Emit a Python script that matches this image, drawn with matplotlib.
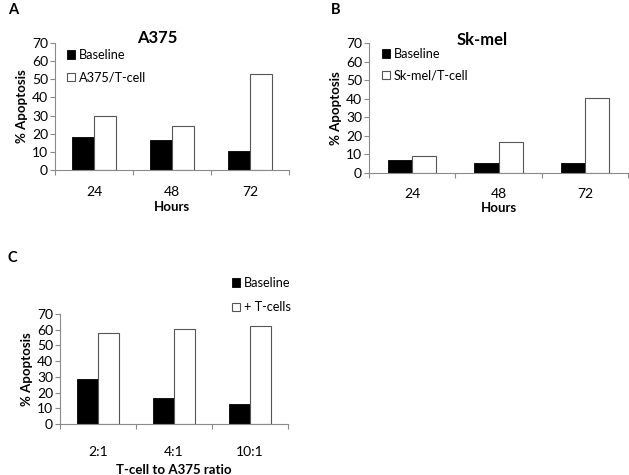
import numpy as np
import matplotlib
matplotlib.use('Agg')
import matplotlib.pyplot as plt
from matplotlib.patches import Patch

plt.rcParams['font.family'] = ['Lato', 'DejaVu Sans']

# ---- data ----
hours = ['24', '48', '72']
a375_base = [18.0, 16.8, 10.7]
a375_tcell = [29.6, 24.3, 52.9]

skmel_base = [6.8, 5.3, 5.2]
skmel_tcell = [9.2, 16.7, 40.2]

ratios = ['2:1', '4:1', '10:1']
ratio_base = [28.4, 16.8, 13.0]
ratio_tcell = [57.7, 60.5, 62.2]

W, H = 629, 475
fig = plt.figure(figsize=(W / 100, H / 100), dpi=100)

spine_col = '#8a8a8a'
edge_col = '#555555'


def px_axes(left, top, right, bottom):
    return fig.add_axes([left / W, 1 - bottom / H, (right - left) / W, (bottom - top) / H])


def bar_panel(ax, cats, base, treat, xlabel, tpad, lpad):
    x = np.arange(len(cats))
    w = 0.28
    ax.bar(x - w, base, width=w, align='edge', color='black', edgecolor='black', linewidth=0.6)
    ax.bar(x, treat, width=w, align='edge', color='white', edgecolor=edge_col, linewidth=0.8)
    ax.set_xlim(-0.5, len(cats) - 0.5)
    ax.set_ylim(0, 70)
    ax.set_yticks(range(0, 71, 10))
    for s in ['top', 'right']:
        ax.spines[s].set_visible(False)
    for s in ['left', 'bottom']:
        ax.spines[s].set_color(spine_col)
        ax.spines[s].set_linewidth(0.8)
    # category boundaries as tick marks, labels in the middle
    ax.set_xticks(np.arange(-0.5, len(cats), 1.0))
    ax.set_xticklabels([])
    ax.set_xticks(x, minor=True)
    ax.set_xticklabels(cats, minor=True, fontsize=10)
    ax.tick_params(axis='x', which='major', direction='out', length=3.5, color=spine_col, width=0.8)
    ax.tick_params(axis='x', which='minor', length=0, pad=tpad)
    ax.tick_params(axis='y', direction='out', length=3.5, color=spine_col, width=0.8,
                   labelsize=10, pad=1.5)
    ax.set_ylabel('% Apoptosis', fontsize=9.5, fontweight='bold', labelpad=3)
    ax.set_xlabel(xlabel, fontsize=9.5, fontweight='bold', labelpad=lpad)


def add_legend(ax, labels, x, y, spacing):
    handles = [Patch(facecolor='black', edgecolor='black', linewidth=0.6),
               Patch(facecolor='white', edgecolor=edge_col, linewidth=0.8)]
    ax.legend(handles, labels, loc='upper left', bbox_to_anchor=(x / W, 1 - y / H),
              bbox_transform=fig.transFigure, frameon=False, fontsize=9.2,
              handlelength=0.6, handleheight=0.6, handletextpad=0.3,
              labelspacing=spacing, borderpad=0, borderaxespad=0)


# Panel A
axA = px_axes(55, 43, 289, 170)
bar_panel(axA, hours, a375_base, a375_tcell, 'Hours', 11.5, 2.5)
add_legend(axA, ['Baseline', 'A375/T-cell'], 67, 49, 0.85)

# Panel B
axB = px_axes(369, 43, 628, 173)
bar_panel(axB, hours, skmel_base, skmel_tcell, 'Hours', 11, 1)
add_legend(axB, ['Baseline', 'Sk-mel/T-cell'], 382, 48, 0.75)

# Panel C
axC = px_axes(60, 314, 288, 424)
bar_panel(axC, ratios, ratio_base, ratio_tcell, 'T-cell to A375 ratio', 16, 4)
add_legend(axC, ['Baseline', '+ T-cells'], 232, 277, 0.95)

# chart titles (sit right on top of the plot area)
fig.text(157 / W, 1 - 38 / H, 'A375', fontsize=12, fontweight='bold', ha='center', va='center')
fig.text(482 / W, 1 - 40 / H, 'Sk-mel', fontsize=12, fontweight='bold', ha='center', va='center')

# panel letters
fig.text(8 / W, 1 - 10 / H, 'A', fontsize=10.5, fontweight='bold', va='center', ha='left')
fig.text(331 / W, 1 - 10 / H, 'B', fontsize=10.5, fontweight='bold', va='center', ha='left')
fig.text(8 / W, 1 - 258 / H, 'C', fontsize=10.5, fontweight='bold', va='center', ha='left')

fig.savefig('out.png', dpi=100)
